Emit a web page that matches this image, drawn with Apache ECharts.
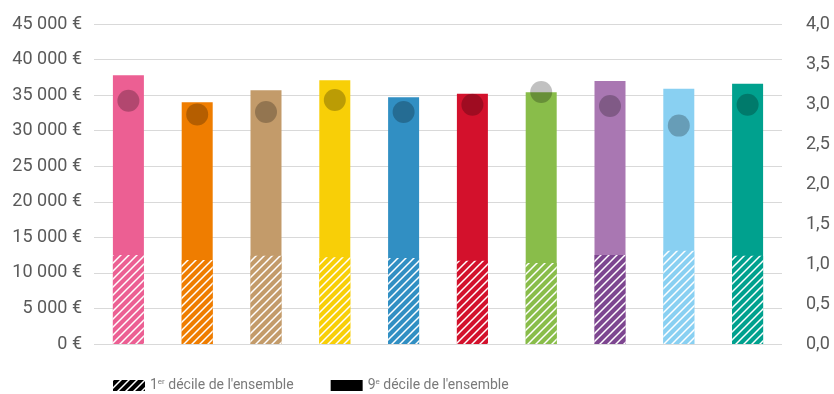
<!DOCTYPE html>
<html>
<head>
<meta charset="utf-8">
<script src="https://cdn.jsdelivr.net/npm/echarts@6/dist/echarts.min.js"></script>
<style>html,body{margin:0;padding:0;background:#fff}#c{width:834px;height:394px}</style>
</head>
<body>
<div id="c"></div>
<script>
// Data
var categories = ['G1','G2','G3','G4','G5','G6','G7','G8','G9','G10'];
var decile9 = [37800, 34000, 35700, 37100, 34700, 35200, 35400, 37000, 35900, 36600];
var decile1 = [12500, 11800, 12400, 12200, 12100, 11700, 11400, 12500, 13100, 12400];
var ratio = [3.04, 2.87, 2.90, 3.05, 2.90, 2.99, 3.15, 2.975, 2.73, 2.99];
var leftTicks = [0, 45000, 5000];
var rightTicks = [0, 4, 0.5];
var legendNames = ["1er décile de l'ensemble", "9e décile de l'ensemble"];

// Styles
var barColors = ['#ec5f93','#ef7d00','#c39b6a','#f8cf07','#318fc3','#d3112c','#89bd4a','#a977b2','#89d0f2','#00a18e'];
var hatchColors = ['#ec5f93','#ef7d00','#c39b6a','#f8cf07','#318fc3','#d3112c','#89bd4a','#7d4690','#89d0f2','#00a18e'];
var FONT = 'Roboto';

function hatch(color) {
  var s = 8;
  var cv = document.createElement('canvas');
  cv.width = s; cv.height = s;
  var ctx = cv.getContext('2d');
  ctx.fillStyle = color; ctx.fillRect(0, 0, s, s);
  ctx.strokeStyle = '#ffffff'; ctx.lineWidth = 1.5;
  ctx.beginPath();
  ctx.moveTo(0, s); ctx.lineTo(s, 0);
  ctx.moveTo(-1, 1); ctx.lineTo(1, -1);
  ctx.moveTo(s - 1, s + 1); ctx.lineTo(s + 1, s - 1);
  ctx.stroke();
  return {image: cv, repeat: 'repeat'};
}

var chart = echarts.init(document.getElementById('c'), null, {renderer: 'canvas'});
var fmtEuro = function (v) {
  return String(v).replace(/\B(?=(\d{3})+(?!\d))/g, ' ') + ' €';
};
var fmtRatio = function (v) { return v.toFixed(1).replace('.', ','); };

chart.setOption({
  animation: false,
  grid: {left: 94, right: 52, top: 24, bottom: 50},
  legend: {
    left: 108, top: 373,
    itemWidth: 32, itemHeight: 11, itemGap: 37,
    selectedMode: false,
    data: [
      {name: legendNames[0], icon: 'rect', itemStyle: {color: hatch('#000000')}},
      {name: legendNames[1], icon: 'rect', itemStyle: {color: '#000000'}}
    ],
    formatter: function (n) {
      return n.replace(/^(\d)(er|e) /, '$1{sup|$2} ');
    },
    textStyle: {
      fontFamily: FONT, fontSize: 14, color: '#7a7a7a',
      rich: {sup: {fontFamily: FONT, fontSize: 8, color: '#7a7a7a', verticalAlign: 'top', padding: [0, 0, 7, 0]}}
    }
  },
  xAxis: {
    type: 'category', data: categories,
    axisLine: {show: false}, axisTick: {show: false}, axisLabel: {show: false}
  },
  yAxis: [{
    type: 'value', min: leftTicks[0], max: leftTicks[1], interval: leftTicks[2],
    axisLine: {show: false}, axisTick: {show: false},
    splitLine: {lineStyle: {color: '#d9d9d9', width: 1}},
    axisLabel: {formatter: fmtEuro, fontFamily: FONT, fontSize: 18, color: '#5a5a5a', margin: 12}
  }, {
    type: 'value', min: rightTicks[0], max: rightTicks[1], interval: rightTicks[2],
    axisLine: {show: false}, axisTick: {show: false}, splitLine: {show: false},
    axisLabel: {formatter: fmtRatio, fontFamily: FONT, fontSize: 18, color: '#5a5a5a', margin: 24}
  }],
  series: [{
    name: legendNames[1], type: 'bar', barWidth: 31,
    itemStyle: {color: '#000000'},
    data: decile9.map(function (v, i) { return {value: v, itemStyle: {color: barColors[i]}}; })
  }, {
    name: legendNames[0], type: 'bar', barWidth: 31, barGap: '-100%',
    itemStyle: {color: hatch('#000000')},
    data: decile1.map(function (v, i) { return {value: v, itemStyle: {color: hatch(hatchColors[i])}}; })
  }, {
    name: 'ratio', type: 'scatter', yAxisIndex: 1, symbolSize: 22, z: 5,
    itemStyle: {color: 'rgba(0,0,0,0.3)'},
    data: ratio
  }]
});
</script>
</body>
</html>
